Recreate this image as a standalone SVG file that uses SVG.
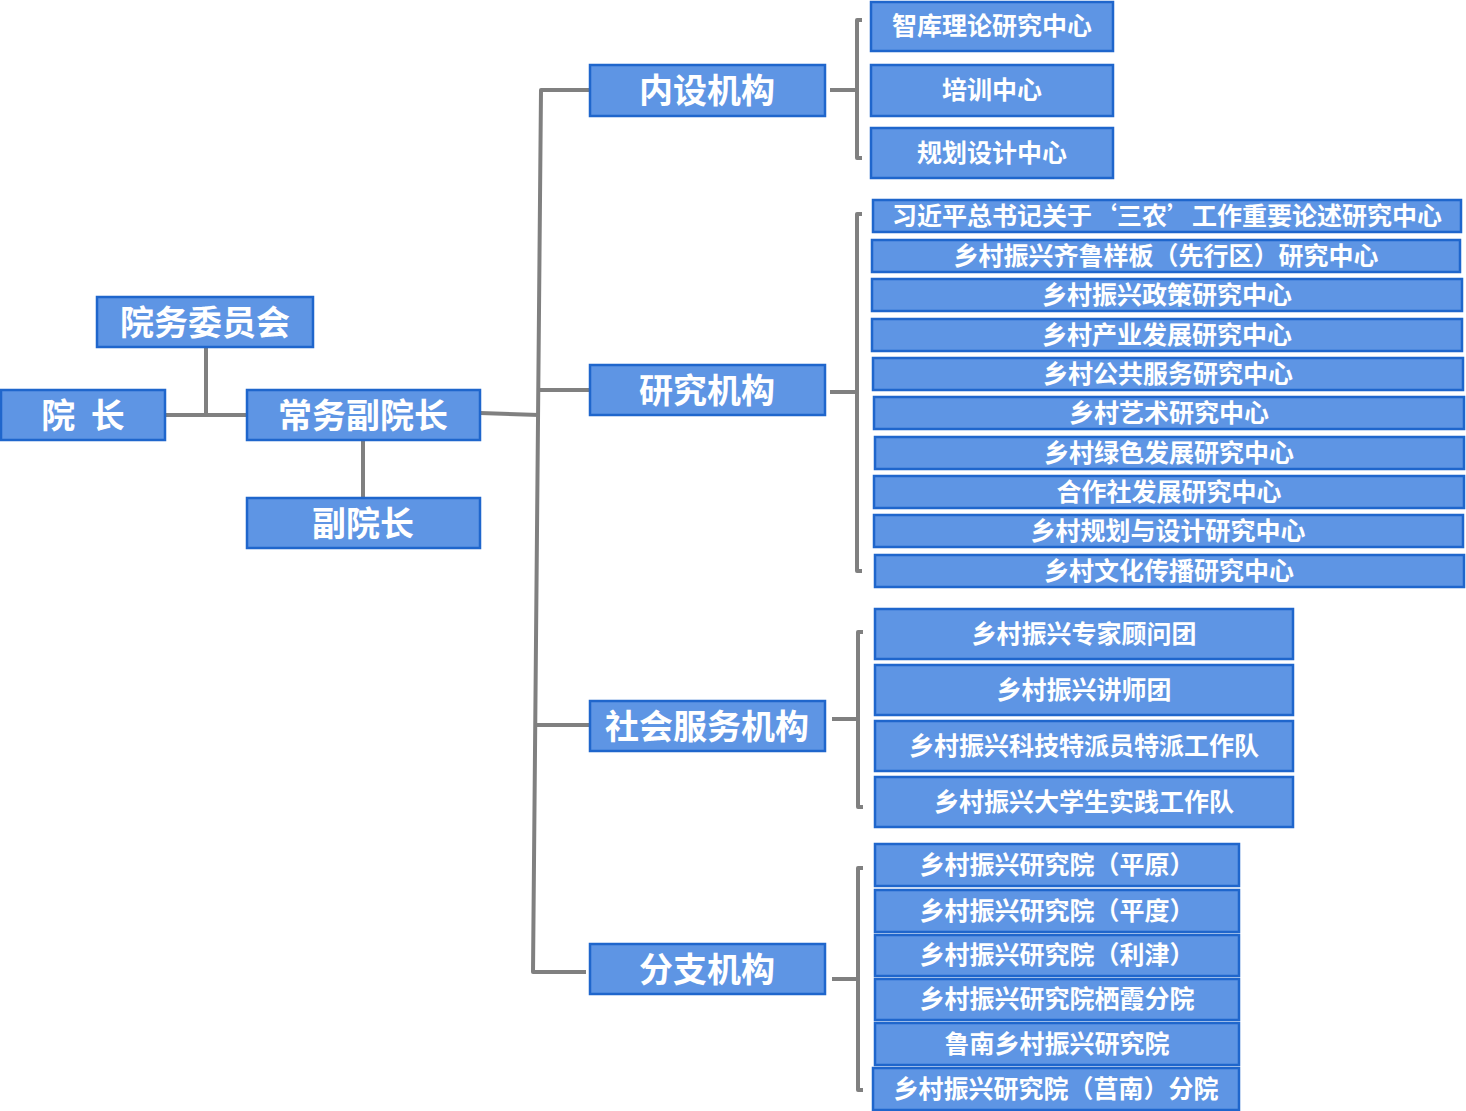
<svg xmlns="http://www.w3.org/2000/svg" width="1466" height="1111" viewBox="0 0 1466 1111">
<style>
.b{fill:#5e95e4;stroke:#1f66cc;stroke-width:2.5}
.t{fill:#fff;font-family:"Noto Sans CJK SC","Noto Sans",sans-serif;font-weight:bold;text-anchor:middle;dominant-baseline:central}
.l{font-size:34px}
.s{font-size:25px}
.c{fill:none;stroke:#808080;stroke-width:4;stroke-linejoin:round}
</style>
<rect width="1466" height="1111" fill="#fff"/>
<g id="connectors">
<path class="c" d="M165,415 H247 M206,347 V415 M363,440 V498 M480,413 L539,415"/>
<path class="c" d="M590,90 H541 L533,972 H586 M539,390 H590 M537,725 H590"/>
<path class="c" d="M830,90 H857 M862,20 H857 V158 H862"/>
<path class="c" d="M830,392 H857 M862,214 H857 V571 H862"/>
<path class="c" d="M832,719 H858 M863,632 H858 V807 H863"/>
<path class="c" d="M832,979 H858 M863,868 H858 V1090 H863"/>
</g>
<g id="n-ywwyh"><rect class="b" x="97" y="297" width="216" height="50"/><text class="t l" x="205" y="320">院务委员会</text></g>
<g id="n-yz"><rect class="b" x="1" y="390" width="164" height="50"/><text class="t l" x="83" y="413" xml:space="preserve">院  长</text></g>
<g id="n-cwfyz"><rect class="b" x="247" y="390" width="233" height="50"/><text class="t l" x="363" y="413">常务副院长</text></g>
<g id="n-fyz"><rect class="b" x="247" y="498" width="233" height="50"/><text class="t l" x="363" y="521">副院长</text></g>
<g id="n-nsjg"><rect class="b" x="590" y="65" width="235" height="51"/><text class="t l" x="707" y="88">内设机构</text></g>
<g id="n-yjjg"><rect class="b" x="590" y="365" width="235" height="50"/><text class="t l" x="707" y="388">研究机构</text></g>
<g id="n-shfwjg"><rect class="b" x="590" y="701" width="235" height="50"/><text class="t l" x="707" y="724">社会服务机构</text></g>
<g id="n-fzjg"><rect class="b" x="590" y="944" width="235" height="50"/><text class="t l" x="707" y="967">分支机构</text></g>
<g id="n-zk"><rect class="b" x="871" y="2" width="242" height="49"/><text class="t s" x="992" y="24">智库理论研究中心</text></g>
<g id="n-px"><rect class="b" x="871" y="65" width="242" height="51"/><text class="t s" x="992" y="88">培训中心</text></g>
<g id="n-ghsj"><rect class="b" x="871" y="128" width="242" height="50"/><text class="t s" x="992" y="151">规划设计中心</text></g>
<g id="n-r1"><rect class="b" x="873" y="200" width="588" height="32"/><text class="t s" x="1167" y="214">习近平总书记关于‘三农’工作重要论述研究中心</text></g>
<g id="n-r2"><rect class="b" x="872" y="240" width="588" height="32"/><text class="t s" x="1166" y="254">乡村振兴齐鲁样板（先行区）研究中心</text></g>
<g id="n-r3"><rect class="b" x="872" y="279" width="590" height="32"/><text class="t s" x="1167" y="293">乡村振兴政策研究中心</text></g>
<g id="n-r4"><rect class="b" x="872" y="319" width="590" height="32"/><text class="t s" x="1167" y="333">乡村产业发展研究中心</text></g>
<g id="n-r5"><rect class="b" x="873" y="358" width="590" height="32"/><text class="t s" x="1168" y="372">乡村公共服务研究中心</text></g>
<g id="n-r6"><rect class="b" x="874" y="397" width="590" height="32"/><text class="t s" x="1169" y="411">乡村艺术研究中心</text></g>
<g id="n-r7"><rect class="b" x="875" y="437" width="589" height="32"/><text class="t s" x="1169" y="451">乡村绿色发展研究中心</text></g>
<g id="n-r8"><rect class="b" x="874" y="476" width="590" height="32"/><text class="t s" x="1169" y="490">合作社发展研究中心</text></g>
<g id="n-r9"><rect class="b" x="874" y="515" width="589" height="32"/><text class="t s" x="1168" y="529">乡村规划与设计研究中心</text></g>
<g id="n-r10"><rect class="b" x="875" y="555" width="589" height="32"/><text class="t s" x="1169" y="569">乡村文化传播研究中心</text></g>
<g id="n-s1"><rect class="b" x="875" y="609" width="418" height="50"/><text class="t s" x="1084" y="632">乡村振兴专家顾问团</text></g>
<g id="n-s2"><rect class="b" x="875" y="665" width="418" height="50"/><text class="t s" x="1084" y="688">乡村振兴讲师团</text></g>
<g id="n-s3"><rect class="b" x="875" y="721" width="418" height="50"/><text class="t s" x="1084" y="744">乡村振兴科技特派员特派工作队</text></g>
<g id="n-s4"><rect class="b" x="875" y="777" width="418" height="50"/><text class="t s" x="1084" y="800">乡村振兴大学生实践工作队</text></g>
<g id="n-f1"><rect class="b" x="875" y="844" width="364" height="42"/><text class="t s" x="1057" y="863">乡村振兴研究院（平原）</text></g>
<g id="n-f2"><rect class="b" x="875" y="890" width="364" height="42"/><text class="t s" x="1057" y="909">乡村振兴研究院（平度）</text></g>
<g id="n-f3"><rect class="b" x="875" y="935" width="364" height="41"/><text class="t s" x="1057" y="953">乡村振兴研究院（利津）</text></g>
<g id="n-f4"><rect class="b" x="875" y="979" width="364" height="41"/><text class="t s" x="1057" y="997">乡村振兴研究院栖霞分院</text></g>
<g id="n-f5"><rect class="b" x="875" y="1023" width="364" height="42"/><text class="t s" x="1057" y="1042">鲁南乡村振兴研究院</text></g>
<g id="n-f6"><rect class="b" x="873" y="1068" width="366" height="42"/><text class="t s" x="1056" y="1087">乡村振兴研究院（莒南）分院</text></g>
</svg>
